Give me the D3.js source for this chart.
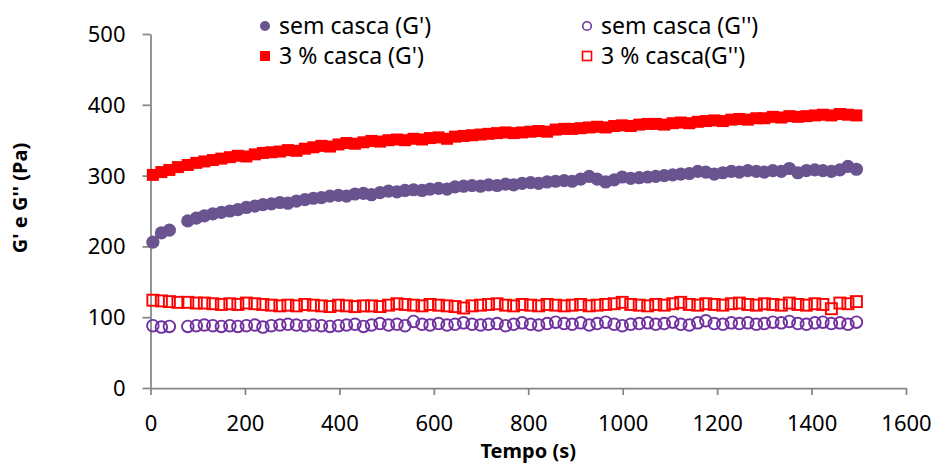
<!DOCTYPE html>
<html>
<head>
<meta charset="utf-8">
<script src="https://cdn.jsdelivr.net/npm/d3@7"></script>
<style>
  html, body { margin: 0; padding: 0; background: #fff; }
</style>
</head>
<body>
<script>
// Rheology time sweep: G' and G'' with and without husk (casca).

// ---------------------------------------------------------------------------
// Data
// ---------------------------------------------------------------------------

const TIME = [
  5, 23, 40, 58, 79, 97, 114, 132, 150, 168,
  185, 203, 221, 238, 256, 274, 291, 309, 327, 345,
  362, 380, 398, 415, 433, 451, 468, 486, 504, 522,
  539, 557, 575, 592, 610, 628, 645, 663, 681, 699,
  716, 734, 752, 769, 787, 805, 822, 840, 858, 876,
  893, 911, 929, 946, 964, 982, 999, 1017, 1035, 1053,
  1070, 1088, 1106, 1123, 1141, 1159, 1176, 1194, 1212, 1230,
  1247, 1265, 1283, 1300, 1318, 1336, 1353, 1371, 1389, 1407,
  1424, 1442, 1460, 1477, 1495
];

const SEM_G1 = [
  206, 219, 223, null, 236, 240, 243, 246, 248, 250,
  252, 255, 257, 259, 260, 262, 261, 264, 266, 268,
  269, 271, 272, 271, 274, 275, 273, 276, 278, 277,
  279, 280, 279, 281, 282, 281, 284, 285, 286, 285,
  287, 286, 288, 287, 289, 290, 289, 291, 292, 293,
  292, 295, 299, 295, 291, 294, 298, 296, 297, 298,
  299, 300, 301, 302, 303, 306, 305, 302, 304, 306,
  305, 307, 306, 305, 307, 306, 310, 304, 307, 308,
  307, 306, 308, 313, 309
];

const SEM_G2 = [
  88, 86, 87, null, 87, 88, 89, 88, 87, 88,
  87, 88, 89, 86, 88, 89, 90, 89, 88, 89,
  88, 87, 88, 89, 90, 87, 89, 91, 89, 90,
  88, 94, 90, 89, 91, 89, 90, 92, 90, 89,
  90, 91, 88, 90, 92, 90, 89, 91, 93, 91,
  90, 92, 89, 91, 93, 90, 88, 90, 91, 92,
  90, 91, 93, 90, 89, 92, 95, 91, 90, 92,
  91, 92, 90, 91, 93, 92, 94, 91, 90, 92,
  93, 91, 92, 90, 93
];

const CAS_G1 = [
  301, 305, 308, 312, 315, 318, 320, 322, 324, 326,
  328, 327, 330, 332, 333, 334, 336, 335, 338, 340,
  342, 341, 344, 346, 345, 347, 349, 348, 350, 351,
  350, 352, 351, 353, 354, 352, 355, 356, 357, 358,
  359, 360, 361, 360, 361, 362, 363, 362, 365, 366,
  366, 367, 368, 369, 368, 370, 371, 370, 372, 373,
  373, 372, 374, 375, 374, 376, 377, 378, 377, 379,
  380, 379, 381, 381, 383, 382, 384, 383, 384, 385,
  386, 385, 387, 386, 385
];

const CAS_G2 = [
  124, 123, 122, 121, 121, 120, 120, 119, 118, 119,
  118, 120, 119, 118, 117, 116, 117, 116, 118, 117,
  116, 115, 117, 116, 115, 116, 116, 115, 117, 119,
  118, 117, 116, 118, 117, 116, 115, 113, 116, 117,
  118, 119, 117, 116, 118, 117, 116, 118, 117, 116,
  117, 118, 116, 117, 118, 119, 121, 118, 117, 116,
  118, 117, 119, 121, 118, 117, 119, 118, 117, 119,
  120, 118, 117, 119, 118, 117, 120, 118, 117, 119,
  118, 112, 120, 119, 122
];

const X_TICKS = [0, 200, 400, 600, 800, 1000, 1200, 1400, 1600];
const Y_TICKS = [0, 100, 200, 300, 400, 500];

const SERIES_NAMES = ["sem casca (G')", "sem casca (G'')", "3 % casca (G')", "3 % casca(G'')"];

// ---------------------------------------------------------------------------
// Layout
// ---------------------------------------------------------------------------

const width = 934;
const height = 466;
const plot = { left: 150.5, right: 906, top: 34, bottom: 388 };
const FONT = "'Noto Sans', 'Open Sans', sans-serif";
const AXIS_COLOR = "#868686";
const PURPLE_FILL = "#69548F";
const PURPLE_LINE = "#7030A0";
const RED = "#FF0000";

const svg = d3.select("body")
  .append("svg")
  .attr("width", width)
  .attr("height", height)
  .attr("font-family", FONT);

svg.append("rect").attr("width", width).attr("height", height).attr("fill", "#fff");

const x = d3.scaleLinear().domain([0, 1600]).range([plot.left, plot.right]);
const y = d3.scaleLinear().domain([0, 500]).range([plot.bottom, plot.top]);

// ---------------------------------------------------------------------------
// Axes
// ---------------------------------------------------------------------------

const yAxis = svg.append("g")
  .attr("transform", `translate(${plot.left},0)`)
  .call(d3.axisLeft(y).tickValues(Y_TICKS).tickFormat(d3.format("d"))
    .tickSize(8).tickPadding(17).tickSizeOuter(0));

const xAxis = svg.append("g")
  .attr("transform", `translate(0,${plot.bottom})`)
  .call(d3.axisBottom(x).tickValues(X_TICKS).tickFormat(d3.format("d"))
    .tickSize(7).tickSizeOuter(0));

for (const ax of [xAxis, yAxis]) {
  ax.select(".domain").attr("stroke", AXIS_COLOR).attr("stroke-width", 1.75);
  ax.selectAll(".tick line").attr("stroke", AXIS_COLOR).attr("stroke-width", 1.75);
  ax.selectAll(".tick text")
    .attr("font-family", FONT)
    .attr("font-size", 22)
    .attr("fill", "#000");
}
yAxis.selectAll(".tick text").attr("dy", "0.34em");
xAxis.selectAll(".tick text").attr("y", 35.5).attr("dy", "0.34em");

// Axis titles.
svg.append("text")
  .attr("x", (plot.left + plot.right) / 2)
  .attr("y", 453)
  .attr("text-anchor", "middle")
  .attr("dominant-baseline", "middle")
  .attr("font-size", 20)
  .attr("font-weight", "bold")
  .text("Tempo (s)");

svg.append("text")
  .attr("transform", "translate(22,198) rotate(-90)")
  .attr("text-anchor", "middle")
  .attr("dominant-baseline", "middle")
  .attr("font-size", 20)
  .attr("font-weight", "bold")
  .text("G' e G'' (Pa)");

// ---------------------------------------------------------------------------
// Markers
// ---------------------------------------------------------------------------

function pts(values) {
  return TIME.map((t, i) => ({ t, v: values[i] })).filter((d) => d.v != null);
}

const marks = svg.append("g");

// 3 % casca (G'') — open squares
marks.append("g").selectAll("rect")
  .data(pts(CAS_G2))
  .join("rect")
  .attr("x", (d) => x(d.t) - 5.5)
  .attr("y", (d) => y(d.v) - 5.5)
  .attr("width", 11)
  .attr("height", 11)
  .attr("fill", "none")
  .attr("stroke", RED)
  .attr("stroke-width", 1.9);

// sem casca (G'') — open circles
marks.append("g").selectAll("circle")
  .data(pts(SEM_G2))
  .join("circle")
  .attr("cx", (d) => x(d.t))
  .attr("cy", (d) => y(d.v))
  .attr("r", 5.8)
  .attr("fill", "none")
  .attr("stroke", PURPLE_LINE)
  .attr("stroke-width", 1.9);

// sem casca (G') — filled circles
marks.append("g").selectAll("circle")
  .data(pts(SEM_G1))
  .join("circle")
  .attr("cx", (d) => x(d.t))
  .attr("cy", (d) => y(d.v))
  .attr("r", 6.6)
  .attr("fill", PURPLE_FILL);

// 3 % casca (G') — filled squares
marks.append("g").selectAll("rect")
  .data(pts(CAS_G1))
  .join("rect")
  .attr("x", (d) => x(d.t) - 6)
  .attr("y", (d) => y(d.v) - 6)
  .attr("width", 12)
  .attr("height", 12)
  .attr("fill", RED);

// ---------------------------------------------------------------------------
// Legend
// ---------------------------------------------------------------------------

const legendItems = [
  { name: SERIES_NAMES[0], mx: 265, my: 26, kind: "dot" },
  { name: SERIES_NAMES[1], mx: 587, my: 26, kind: "ring" },
  { name: SERIES_NAMES[2], mx: 265, my: 56, kind: "square" },
  { name: SERIES_NAMES[3], mx: 587, my: 56, kind: "box" }
];

const legend = svg.append("g");
for (const it of legendItems) {
  if (it.kind === "dot") {
    legend.append("circle").attr("cx", it.mx).attr("cy", it.my).attr("r", 5).attr("fill", PURPLE_FILL);
  } else if (it.kind === "ring") {
    legend.append("circle").attr("cx", it.mx).attr("cy", it.my).attr("r", 4.3)
      .attr("fill", "none").attr("stroke", PURPLE_LINE).attr("stroke-width", 1.6);
  } else if (it.kind === "square") {
    legend.append("rect").attr("x", it.mx - 5).attr("y", it.my - 5).attr("width", 10).attr("height", 10).attr("fill", RED);
  } else {
    legend.append("rect").attr("x", it.mx - 4.5).attr("y", it.my - 4.5).attr("width", 9).attr("height", 9)
      .attr("fill", "none").attr("stroke", RED).attr("stroke-width", 1.6);
  }
  legend.append("text")
    .attr("x", it.mx + 14)
    .attr("y", it.my)
    .attr("dy", "0.34em")
    .attr("font-size", 23)
    .attr("fill", "#000")
    .text(it.name);
}
</script>
</body>
</html>
